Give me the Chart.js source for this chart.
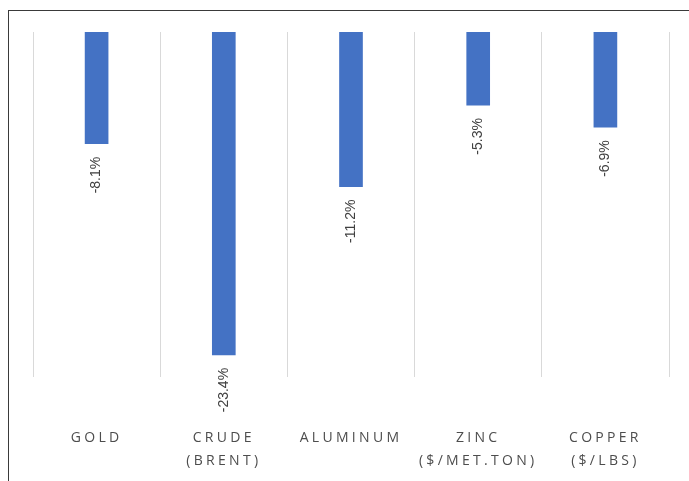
<!DOCTYPE html>
<html>
<head>
<meta charset="utf-8">
<script src="https://cdn.jsdelivr.net/npm/chart.js@4"></script>
<style>
  html, body { margin: 0; padding: 0; background: #fff; }
  #wrap { position: relative; width: 689px; height: 481px; }
  #frame { position: absolute; left: 8px; top: 10px; right: 0; bottom: 0;
           border-left: 1px solid #3a3a3a; border-top: 1px solid #3a3a3a; }
  canvas { position: absolute; left: 0; top: 0; }
</style>
</head>
<body>
<div id="wrap">
  <div id="frame"></div>
  <canvas id="myChart" width="689" height="481"></canvas>
</div>
<script>
const categorias = [['GOLD'], ['CRUDE', '(BRENT)'], ['ALUMINUM'], ['ZINC', '($/MET.TON)'], ['COPPER', '($/LBS)']];
const variaciones = [-8.1, -23.4, -11.2, -5.3, -6.9];
const ejeMin = -25;
const ejeMax = 0;

// etiquetas rotadas debajo de cada barra
const etiquetasBarras = {
    id: 'etiquetasBarras',
    beforeLayout(chart) { chart.ctx.letterSpacing = '3.3px'; },
    beforeDraw(chart) { chart.ctx.letterSpacing = '3.3px'; },
    afterDatasetsDraw(chart) {
        const ctx = chart.ctx;
        const meta = chart.getDatasetMeta(0);
        ctx.save();
        ctx.letterSpacing = '0px';
        ctx.font = '14px "Liberation Sans", Arial, sans-serif';
        ctx.fillStyle = '#404040';
        ctx.textAlign = 'right';
        ctx.textBaseline = 'middle';
        meta.data.forEach((bar, i) => {
            ctx.save();
            ctx.translate(bar.x, bar.y + 13);
            ctx.rotate(-Math.PI / 2);
            ctx.fillText(variaciones[i].toFixed(1) + '%', 0, 0);
            ctx.restore();
        });
        ctx.restore();
    }
};

const ctx = document.getElementById('myChart').getContext('2d');
const myChart = new Chart(ctx, {
    type: 'bar',
    data: {
        labels: categorias,
        datasets: [{
            data: variaciones,
            backgroundColor: '#4472C4',
            barThickness: 23
        }]
    },
    options: {
        responsive: false,
        animation: false,
        layout: { padding: { left: 33, right: 20, top: 32, bottom: 10 } },
        plugins: { legend: { display: false }, tooltip: { enabled: false } },
        scales: {
            x: {
                grid: { color: '#d9d9d9', lineWidth: 1, drawTicks: false },
                border: { display: false },
                afterFit(scale) {
                    scale.height = 94;
                    scale.paddingLeft = 0;
                    scale.paddingRight = 0;
                },
                ticks: {
                    color: '#4d4d4d',
                    padding: 50,
                    maxRotation: 0,
                    autoSkip: false,
                    font: { family: '"Open Sans", sans-serif', size: 14, lineHeight: '23px' }
                }
            },
            y: {
                display: false,
                min: ejeMin,
                max: ejeMax
            }
        }
    },
    plugins: [etiquetasBarras]
});
</script>
</body>
</html>
